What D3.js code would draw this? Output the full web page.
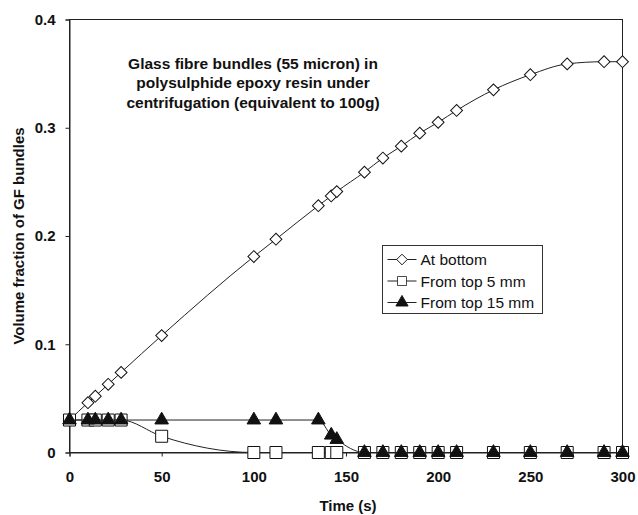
<!DOCTYPE html>
<html>
<head>
<meta charset="utf-8">
<script src="https://cdn.jsdelivr.net/npm/d3@7"></script>
<style>
  body { margin: 0; background: #fff; }
  svg { font-family: "Liberation Sans", Arial, sans-serif; }
</style>
</head>
<body>
<svg id="chart" width="638" height="515"></svg>
<script>
// time points (s)
const times = [0, 10, 14, 21, 28, 50, 100, 112, 135, 142, 145, 160, 170, 180, 190, 200, 210, 230, 250, 270, 290, 300];

// volume fraction series
const atBottom = [0.030, 0.046, 0.052, 0.063, 0.074, 0.108, 0.181, 0.197, 0.228, 0.237, 0.241, 0.259, 0.272, 0.283, 0.295, 0.305, 0.316, 0.335, 0.349, 0.359, 0.361, 0.361];
const fromTop5 = [0.030, 0.030, 0.030, 0.030, 0.030, 0.015, 0, 0, 0, 0, 0, 0, 0, 0, 0, 0, 0, 0, 0, 0, 0, 0];
const fromTop15 = [0.030, 0.030, 0.030, 0.030, 0.030, 0.030, 0.030, 0.030, 0.030, 0.016, 0.012, 0, 0, 0, 0, 0, 0, 0, 0, 0, 0, 0];

const xTicks = [0, 50, 100, 150, 200, 250, 300];
const yTicks = [0, 0.1, 0.2, 0.3, 0.4];
const seriesNames = ["At bottom", "From top 5 mm", "From top 15 mm"];
const annotation = [
  "Glass fibre bundles (55 micron) in",
  "polysulphide epoxy resin under",
  "centrifugation (equivalent to 100g)"
];

const svg = d3.select("#chart");
const margin = { left: 69.5, right: 15.5, top: 19.5, bottom: 62.5 };
const W = 638, H = 515;

const x = d3.scaleLinear().domain([0, 300]).range([margin.left, W - margin.right]);
const y = d3.scaleLinear().domain([0, 0.4]).range([H - margin.bottom, margin.top]);

// plot frame
svg.append("rect")
  .attr("x", x(0)).attr("y", y(0.4))
  .attr("width", x(300) - x(0)).attr("height", y(0) - y(0.4))
  .attr("fill", "none").attr("stroke", "#222").attr("stroke-width", 1);

const xAxis = svg.append("g")
  .attr("transform", `translate(0,${y(0)})`)
  .call(d3.axisBottom(x).tickValues(xTicks).tickSize(4).tickPadding(15).tickFormat(d3.format("d")));
const yAxis = svg.append("g")
  .attr("transform", `translate(${x(0)},0)`)
  .call(d3.axisLeft(y).tickValues(yTicks).tickSize(4).tickPadding(10).tickFormat(d => d === 0 ? "0" : d3.format(".1f")(d)));

[xAxis, yAxis].forEach(ax => {
  ax.select(".domain").attr("stroke", "#222");
  ax.selectAll(".tick line").attr("stroke", "#222");
  ax.selectAll(".tick text")
    .attr("fill", "#111")
    .style("font-size", "15px")
    .style("font-weight", "bold")
    .style("font-family", "'Liberation Sans', Arial, sans-serif");
});

// axis titles
svg.append("text")
  .attr("x", 348).attr("y", 510.5)
  .attr("text-anchor", "middle")
  .style("font-size", "15px").style("font-weight", "bold")
  .attr("fill", "#111")
  .text("Time (s)");

svg.append("text")
  .attr("transform", `translate(23.5,${(y(0) + y(0.4)) / 2}) rotate(-90)`)
  .attr("text-anchor", "middle")
  .style("font-size", "15px").style("font-weight", "bold")
  .attr("fill", "#111")
  .text("Volume fraction of GF bundles");

// annotation
svg.append("text")
  .attr("text-anchor", "middle")
  .style("font-size", "15.5px").style("font-weight", "bold")
  .attr("fill", "#111")
  .selectAll("tspan")
  .data(annotation)
  .join("tspan")
  .attr("x", 253)
  .attr("y", (d, i) => 68.5 + i * 19.5)
  .text(d => d);

const line = d3.line()
  .x(d => x(d[0]))
  .y(d => y(d[1]))
  .curve(d3.curveMonotoneX);

const diamond = d3.symbol().type(d3.symbolSquare).size(70);
const square = d3.symbol().type(d3.symbolSquare).size(144);
const triangle = d3.symbol().type(d3.symbolTriangle).size(80);

const series = [
  { name: seriesNames[0], values: atBottom, sym: diamond, rot: 45, fill: "#fff" },
  { name: seriesNames[1], values: fromTop5, sym: square, rot: 0, fill: "#fff" },
  { name: seriesNames[2], values: fromTop15, sym: triangle, rot: 0, fill: "#111" }
];

series.forEach(s => {
  const pts = times.map((t, i) => [t, s.values[i]]);
  const g = svg.append("g");
  g.append("path")
    .datum(pts)
    .attr("d", line)
    .attr("fill", "none")
    .attr("stroke", "#222")
    .attr("stroke-width", 1);
  g.selectAll("path.mark")
    .data(pts)
    .join("path")
    .attr("class", "mark")
    .attr("d", s.sym)
    .attr("transform", d => `translate(${x(d[0])},${y(d[1])}) rotate(${s.rot})`)
    .attr("fill", s.fill)
    .attr("stroke", "#111")
    .attr("stroke-width", 1);
});

// legend
const lg = svg.append("g").attr("transform", "translate(382.5,245.5)");
lg.append("rect")
  .attr("width", 160).attr("height", 68)
  .attr("fill", "#fff").attr("stroke", "#333").attr("stroke-width", 1);
series.forEach((s, i) => {
  const row = lg.append("g").attr("transform", `translate(0,${14 + i * 21.5})`);
  row.append("line")
    .attr("x1", 5).attr("x2", 34).attr("y1", 0).attr("y2", 0)
    .attr("stroke", "#222").attr("stroke-width", 1);
  row.append("path")
    .attr("d", s.sym)
    .attr("transform", `translate(19.5,0) rotate(${s.rot}) scale(${i === 1 ? 0.75 : 0.9})`)
    .attr("fill", s.fill).attr("stroke", "#111").attr("stroke-width", 1);
  row.append("text")
    .attr("x", 38).attr("y", 5.5)
    .style("font-size", "15.5px")
    .attr("fill", "#111")
    .text(s.name);
});
</script>
</body>
</html>
